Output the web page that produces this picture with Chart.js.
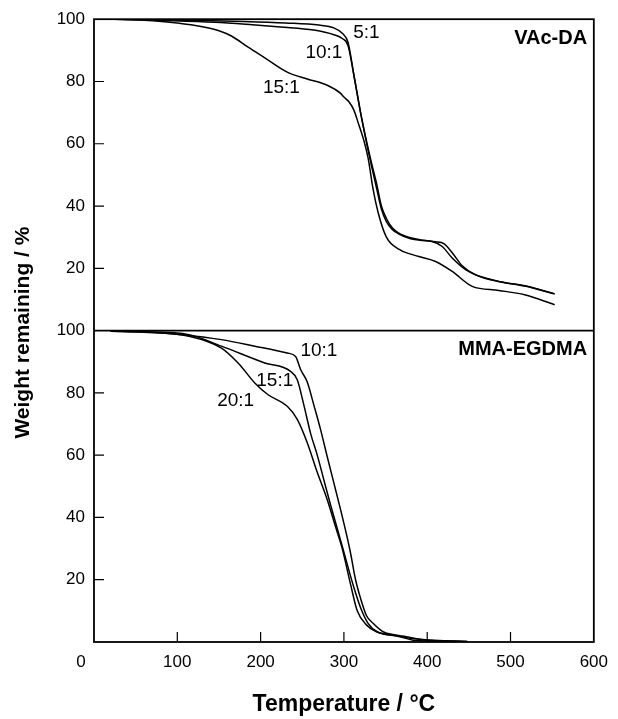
<!DOCTYPE html>
<html>
<head>
<meta charset="utf-8">
<script src="https://cdn.jsdelivr.net/npm/chart.js@4/dist/chart.umd.min.js"></script>
<style>
  html, body { margin: 0; padding: 0; background: #fff; }
  #wrap { width: 618px; height: 719px; }
</style>
</head>
<body>
<div id="wrap"><canvas id="tgaChart" width="618" height="719"></canvas></div>
<script>
// tick values
const xTicks = [0, 100, 200, 300, 400, 500, 600];
const yTicks = [0, 20, 40, 60, 80, 100];

// VAc-DA (top panel)
const vac5Temp = [25, 80, 130, 180, 230, 270, 288, 298, 305, 312, 320, 327, 333, 339, 345, 351, 358, 366, 380, 395, 410, 420, 430, 442, 458, 485, 517, 553];
const vac5Weight = [100, 99.8, 99.6, 99.3, 98.8, 98.1, 97.2, 95.5, 92.5, 82, 70, 61, 54, 47.5, 40, 36, 33, 31.3, 29.8, 29, 28.5, 27.9, 25, 20.8, 17.9, 15.8, 14.4, 11.8];

const vac10Temp = [25, 80, 145, 190, 224, 264, 288, 298, 305, 312, 320, 327, 333, 339, 345, 351, 358, 366, 380, 395, 406, 418, 430, 446, 466, 490, 517, 553];
const vac10Weight = [100, 99.6, 99, 98.2, 97.5, 96.5, 95, 93.8, 91.5, 82, 70, 60.5, 53, 46, 39, 35, 32.5, 31, 29.5, 28.9, 28.6, 27, 23.3, 19.6, 17.2, 15.6, 14.3, 11.8];

const vac15Temp = [25, 60, 100, 130, 150, 165, 185, 205, 232, 256, 280, 296, 300, 306, 312, 318, 324, 329, 335, 341, 351, 367, 390, 410, 430, 454, 486, 517, 553];
const vac15Weight = [100, 99.7, 98.8, 97.6, 96.3, 94.6, 91, 87.6, 83, 80.8, 78.8, 76.2, 75, 73.5, 70.8, 66, 61, 55.5, 45.5, 38, 30, 26, 23.8, 22.2, 19, 14.2, 12.9, 11.5, 8.3];

// MMA-EGDMA (bottom panel)
const mma10Temp = [20, 60, 106, 153, 193, 232, 242, 248, 256, 264, 272, 280, 288, 296, 304, 308, 314, 320, 327, 335, 347, 360, 375, 394, 420, 448];
const mma10Weight = [99.8, 99.6, 98.7, 97.1, 95, 92.8, 91.7, 87.5, 83.5, 76, 68.2, 59.5, 51, 42.5, 33.5, 28.5, 20, 14, 8.5, 6, 3.3, 2.3, 1.7, 0.8, 0.4, 0.2];

const mma15Temp = [20, 60, 114, 153, 205, 236, 244, 252, 260, 268, 276, 284, 292, 299, 306, 312, 320, 329, 340, 360, 380, 400, 425, 448];
const mma15Weight = [99.8, 99.6, 98.7, 95, 89.6, 86.9, 84.2, 76, 67, 60, 52, 44, 36.5, 29.8, 23, 17.5, 11, 6, 3.3, 2.2, 1.2, 0.6, 0.3, 0.2];

const mma20Temp = [20, 60, 114, 153, 173, 193, 209, 232, 244, 256, 268, 280, 290, 298, 308, 316, 327, 339, 367, 383, 410, 440];
const mma20Weight = [99.8, 99.5, 98.2, 94.4, 89.6, 83.2, 79.4, 75.7, 71.5, 64, 54.5, 45.7, 37, 30, 18.5, 10, 5.5, 3.3, 1.7, 0.6, 0.3, 0.2];

// curve labels
const curveLabels = [
  { text: '5:1', t: 327, w: 95.8, axis: 'yTop' },
  { text: '10:1', t: 276, w: 89.3, axis: 'yTop' },
  { text: '15:1', t: 225, w: 77.9, axis: 'yTop' },
  { text: '10:1', t: 270, w: 93.4, axis: 'yBot' },
  { text: '15:1', t: 217, w: 83.8, axis: 'yBot' },
  { text: '20:1', t: 170, w: 77.6, axis: 'yBot' }
];
const panelLabels = [
  { text: 'VAc-DA', t: 592, w: 93.9, axis: 'yTop' },
  { text: 'MMA-EGDMA', t: 592, w: 93.9, axis: 'yBot' }
];

function toPoints(temps, weights) {
  return temps.map((t, i) => ({ x: t, y: weights[i] }));
}

function curve(temps, weights, axis) {
  return {
    data: toPoints(temps, weights),
    yAxisID: axis,
    borderColor: '#000',
    borderWidth: 1.5,
    pointRadius: 0,
    fill: false,
    cubicInterpolationMode: 'monotone'
  };
}

const FONT = '"Liberation Sans", Arial, Helvetica, sans-serif';
const TICK_FONT = { family: FONT, size: 17 };

// frame, inward ticks, labels
const framePlugin = {
  id: 'frame',
  afterDatasetsDraw(chart) {
    const ctx = chart.ctx;
    const area = chart.chartArea;
    const xs = chart.scales.x;
    const top = chart.scales.yTop;
    const bot = chart.scales.yBot;

    ctx.save();
    ctx.strokeStyle = '#000';
    ctx.lineWidth = 1.8;
    ctx.strokeRect(area.left, area.top, area.right - area.left, area.bottom - area.top);

    // divider between panels
    const yDiv = top.getPixelForValue(0);
    ctx.beginPath();
    ctx.moveTo(area.left, yDiv);
    ctx.lineTo(area.right, yDiv);
    ctx.stroke();

    // inward ticks
    ctx.lineWidth = 1.2;
    ctx.beginPath();
    xTicks.slice(1, -1).forEach(v => {
      const px = xs.getPixelForValue(v);
      ctx.moveTo(px, area.bottom);
      ctx.lineTo(px, area.bottom - 10);
    });
    [top, bot].forEach(sc => {
      yTicks.slice(1, -1).forEach(v => {
        const py = sc.getPixelForValue(v);
        ctx.moveTo(area.left, py);
        ctx.lineTo(area.left + 10, py);
      });
    });
    ctx.stroke();

    ctx.fillStyle = '#000';
    ctx.textBaseline = 'middle';

    // origin label sits left of the corner
    ctx.textAlign = 'center';
    ctx.font = TICK_FONT.size + 'px ' + FONT;
    ctx.fillText('0', xs.getPixelForValue(0) - 13, area.bottom + 20);

    // curve labels
    ctx.font = '19px ' + FONT;
    curveLabels.forEach(l => {
      ctx.fillText(l.text, xs.getPixelForValue(l.t), chart.scales[l.axis].getPixelForValue(l.w));
    });
    ctx.textAlign = 'right';
    ctx.font = 'bold 20px ' + FONT;
    panelLabels.forEach(l => {
      ctx.fillText(l.text, xs.getPixelForValue(l.t), chart.scales[l.axis].getPixelForValue(l.w));
    });

    // y axis title spanning both panels
    ctx.translate(23, (area.top + area.bottom) / 2 + 2);
    ctx.rotate(-Math.PI / 2);
    ctx.textAlign = 'center';
    ctx.font = 'bold 21px ' + FONT;
    ctx.fillText('Weight remaining / %', 0, 0);
    ctx.restore();
  }
};

const yAxisBase = {
  type: 'linear',
  position: 'left',
  stack: 'panels',
  stackWeight: 1,
  min: 0,
  max: 100,
  grid: { display: false, drawTicks: false },
  border: { display: false },
  ticks: {
    stepSize: 20,
    padding: 9,
    color: '#000',
    font: TICK_FONT,
    callback: v => (v === 0 ? '' : v)
  },
  afterFit: scale => { scale.width = 94; }
};

new Chart(document.getElementById('tgaChart').getContext('2d'), {
  type: 'line',
  data: {
    datasets: [
      curve(vac5Temp, vac5Weight, 'yTop'),
      curve(vac10Temp, vac10Weight, 'yTop'),
      curve(vac15Temp, vac15Weight, 'yTop'),
      curve(mma10Temp, mma10Weight, 'yBot'),
      curve(mma15Temp, mma15Weight, 'yBot'),
      curve(mma20Temp, mma20Weight, 'yBot')
    ]
  },
  options: {
    responsive: false,
    animation: false,
    layout: { padding: { left: 0, top: 19, right: 18, bottom: 0 } },
    plugins: {
      legend: { display: false },
      tooltip: { enabled: false }
    },
    scales: {
      x: {
        type: 'linear',
        position: 'bottom',
        min: 0,
        max: 600,
        grid: { display: false, drawTicks: false },
        border: { display: false },
        ticks: {
          stepSize: 100,
          padding: 10,
          maxRotation: 0,
          color: '#000',
          font: TICK_FONT,
          callback: v => (v === 0 ? '' : v)
        },
        title: {
          display: true,
          text: 'Temperature / °C',
          color: '#000',
          font: { family: FONT, size: 23, weight: 'bold' },
          padding: { top: 0, bottom: 1 }
        },
        afterFit: scale => { scale.height = 77; }
      },
      yTop: Object.assign({}, yAxisBase, { weight: 2 }),
      yBot: Object.assign({}, yAxisBase, { weight: 1 })
    }
  },
  plugins: [framePlugin]
});
</script>
</body>
</html>
